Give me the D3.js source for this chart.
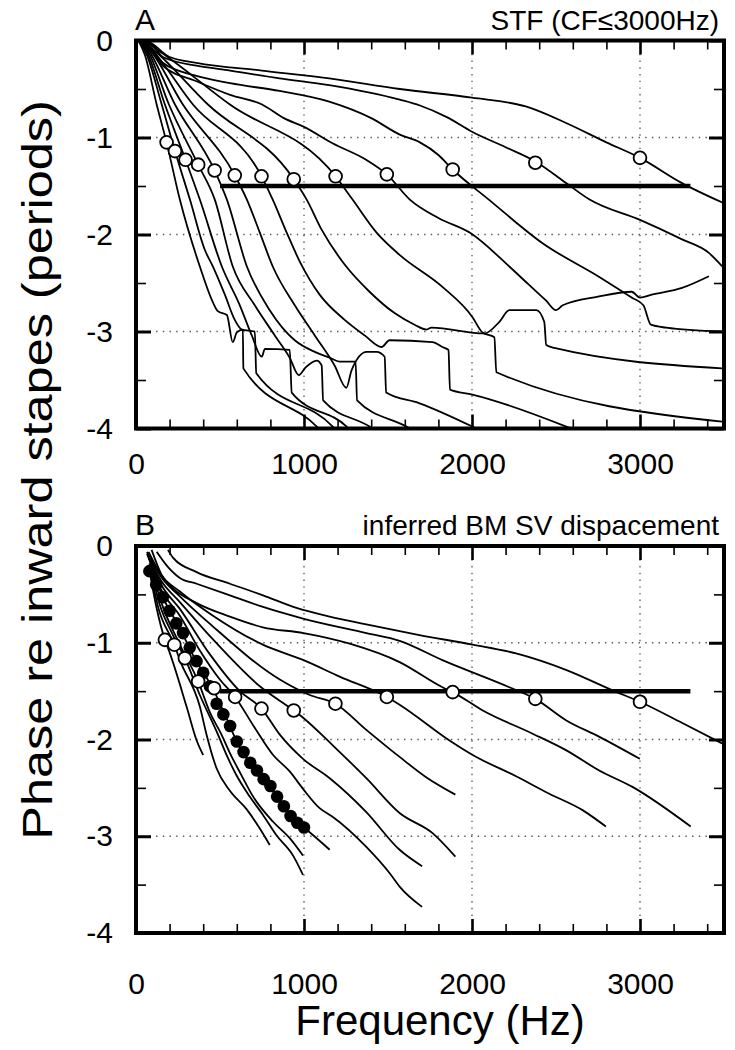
<!DOCTYPE html>
<html><head><meta charset="utf-8">
<script src="https://cdn.jsdelivr.net/npm/d3@7/dist/d3.min.js"></script>
<style>
body{margin:0;background:#fff;}
text{font-family:"Liberation Sans",Arial,sans-serif;fill:#000;}
</style></head><body>
<svg id="chart" width="735" height="1050" xmlns="http://www.w3.org/2000/svg"></svg>
<script>
// ---------- data (frequency in Hz, phase in periods) ----------
const xMajorTicks = [0, 1000, 2000, 3000];
const yMajorTicks = [0, -1, -2, -3, -4];
const gridFreq = [1000, 2000, 3000];
const gridPhase = [-1, -2, -3];

const cfFreqA  = [182, 232, 295, 370, 468, 588, 747, 939, 1188, 1493, 1885, 2377, 3000];
const cfPhaseA = [-1.05, -1.14, -1.23, -1.28, -1.34, -1.39, -1.40, -1.43, -1.40, -1.38, -1.33, -1.26, -1.21];
const cfFreqB  = [172, 228, 291, 370, 465, 590, 747, 939, 1187, 1493, 1885, 2377, 3000];
const cfPhaseB = [-0.97, -1.02, -1.16, -1.40, -1.47, -1.56, -1.68, -1.70, -1.63, -1.56, -1.51, -1.58, -1.61];

const refFreq = [500, 3300];
const refPhase = -1.5;

const dotFreq  = [80,120,160,200,240,280,320,360,400,440,480,520,560,600,640,680,720,760,800,840,880,920,960,1000];
const dotPhase = [-0.26,-0.40,-0.53,-0.67,-0.80,-0.90,-1.05,-1.19,-1.31,-1.45,-1.63,-1.74,-1.86,-2.02,-2.13,-2.24,-2.32,-2.41,-2.48,-2.59,-2.69,-2.79,-2.86,-2.91];

// Panel A: STF curves
const stfA1 = [[15,0],[53,-0.15],[123,-0.66],[182,-1.05],[261,-1.64],[380,-2.33],[458,-2.70],[487,-2.79],[541,-2.83],[576,-3.11],[600,-3.01],[636,-2.98],[639,-3.38],[1076,-3.98],[1153,-4.12]];
const stfA2 = [[20,0],[65,-0.15],[153,-0.66],[232,-1.14],[321,-1.64],[410,-2.16],[458,-2.33],[529,-2.62],[588,-2.88],[630,-2.98],[707,-3.00],[716,-3.43],[1171,-3.98],[1242,-4.12]];
const stfA3 = [[24,0],[71,-0.14],[172,-0.66],[295,-1.23],[380,-1.64],[511,-2.33],[618,-2.73],[689,-3.04],[749,-3.26],[767,-3.18],[915,-3.19],[927,-3.63],[1254,-3.98],[1331,-4.12]];
const stfA4 = [[24,0],[77,-0.13],[196,-0.66],[370,-1.28],[469,-1.64],[576,-2.33],[707,-2.73],[826,-3.04],[915,-3.27],[969,-3.45],[1010,-3.37],[1076,-3.30],[1105,-3.35],[1114,-3.71],[1390,-3.98],[1509,-4.12]];
const stfA5 = [[30,0],[83,-0.12],[232,-0.66],[468,-1.34],[541,-1.64],[660,-2.33],[796,-2.78],[945,-3.09],[1064,-3.21],[1153,-3.27],[1212,-3.31],[1307,-3.31],[1316,-3.71],[1610,-3.98],[1747,-4.12]];
const stfA6 = [[30,0],[89,-0.11],[279,-0.66],[588,-1.39],[660,-1.64],[737,-1.98],[814,-2.33],[945,-2.73],[1064,-3.04],[1182,-3.35],[1252,-3.58],[1283,-3.40],[1373,-3.21],[1432,-3.21],[1480,-3.26],[1489,-3.63],[1688,-3.74],[2002,-3.98],[2163,-4.12]];
const stfA7 = [[35,0],[95,-0.10],[339,-0.66],[747,-1.40],[814,-1.64],[897,-1.98],[975,-2.28],[1093,-2.62],[1242,-2.88],[1361,-3.04],[1462,-3.16],[1509,-3.09],[1765,-3.11],[1824,-3.16],[1860,-3.19],[1869,-3.60],[2002,-3.65],[2561,-3.98],[2757,-4.12]];
const stfA8 = [[35,0],[101,-0.09],[428,-0.66],[939,-1.43],[1016,-1.64],[1105,-1.95],[1242,-2.31],[1390,-2.59],[1539,-2.81],[1658,-2.93],[1729,-2.98],[1759,-2.96],[2074,-3.02],[2163,-2.90],[2222,-2.78],[2383,-2.78],[2430,-2.90],[2442,-3.14],[2490,-3.17],[3488,-3.38]];
const stfA9 = [[40,0],[113,-0.08],[559,-0.66],[1188,-1.40],[1289,-1.64],[1432,-1.98],[1569,-2.21],[1824,-2.54],[2002,-2.85],[2062,-3.01],[2133,-3.06],[2145,-3.42],[3488,-3.93]];
const stfA10 = [[20,0],[100,-0.12],[160,-0.26],[360,-0.42],[560,-0.56],[750,-0.66],[880,-0.80],[1000,-0.89],[1170,-1.06],[1370,-1.23],[1493,-1.38],[1630,-1.64],[1800,-1.83],[1995,-1.99],[2222,-2.33],[2340,-2.52],[2440,-2.68],[2500,-2.78],[2540,-2.73],[2750,-2.64],[2950,-2.59],[3000,-2.65],[3070,-2.62],[3250,-2.55],[3410,-2.43]];
const stfA11 = [[20,0],[100,-0.10],[160,-0.23],[350,-0.36],[560,-0.44],[855,-0.52],[1150,-0.63],[1400,-0.80],[1570,-0.97],[1690,-1.05],[1800,-1.18],[1885,-1.33],[2100,-1.64],[2420,-2.09],[2760,-2.44],[2950,-2.65],[3020,-2.73],[3065,-2.93],[3155,-2.96],[3490,-3.00]];
const stfA12 = [[20,0],[100,-0.05],[160,-0.17],[360,-0.26],[560,-0.31],[855,-0.39],[1150,-0.46],[1570,-0.61],[1690,-0.67],[1850,-0.79],[2000,-0.94],[2200,-1.10],[2380,-1.25],[2560,-1.47],[2700,-1.64],[3000,-1.85],[3250,-2.05],[3410,-2.19],[3490,-2.33]];
const stfA13 = [[20,0],[80,-0.02],[200,-0.17],[360,-0.23],[750,-0.31],[1150,-0.39],[1570,-0.50],[2000,-0.59],[2320,-0.68],[2560,-0.85],[2800,-1.05],[3000,-1.21],[3250,-1.47],[3490,-1.67]];

// Panel B: inferred BM SV displacement curves
const bmB1 = [[75,-0.20],[120,-0.62],[172,-0.97],[202,-1.11],[301,-1.66],[361,-2.01],[400,-2.16]];
const bmB2 = [[80,-0.20],[130,-0.62],[228,-1.02],[261,-1.18],[380,-1.66],[420,-1.95],[480,-2.30],[559,-2.53],[658,-2.72],[737,-2.92],[796,-3.09]];
const bmB3 = [[80,-0.18],[140,-0.60],[220,-0.92],[291,-1.16],[380,-1.54],[488,-1.95],[539,-2.16],[598,-2.37],[677,-2.59],[756,-2.78],[836,-2.99],[935,-3.20],[994,-3.40]];
const bmB4 = [[85,-0.18],[150,-0.58],[250,-0.98],[370,-1.40],[440,-1.72],[509,-1.95],[559,-2.14],[628,-2.37],[697,-2.59],[816,-2.85],[915,-3.02],[994,-3.20]];
const bmB5 = [[85,-0.20],[160,-0.53],[261,-0.85],[340,-1.13],[465,-1.50],[539,-1.78],[608,-2.05],[697,-2.28],[777,-2.45],[856,-2.63],[935,-2.82],[1000,-2.91],[1153,-3.14]];
const bmB6 = [[75,-0.12],[150,-0.45],[261,-0.72],[380,-1.08],[499,-1.38],[590,-1.56],[700,-1.86],[816,-2.16],[915,-2.33],[994,-2.51],[1093,-2.71],[1172,-2.80],[1371,-3.11],[1509,-3.38],[1569,-3.52],[1703,-3.73]];
const bmB7 = [[70,-0.10],[150,-0.40],[261,-0.65],[440,-1.12],[618,-1.50],[747,-1.68],[856,-1.95],[994,-2.20],[1153,-2.40],[1371,-2.75],[1569,-3.14],[1703,-3.31]];
const bmB8 = [[65,-0.08],[150,-0.36],[261,-0.58],[450,-0.95],[737,-1.45],[939,-1.70],[998,-1.78],[1171,-2.06],[1371,-2.40],[1569,-2.76],[1767,-2.97],[1901,-3.21]];
const bmB9 = [[65,-0.06],[150,-0.32],[261,-0.52],[450,-0.82],[856,-1.38],[1034,-1.54],[1187,-1.63],[1371,-1.90],[1569,-2.18],[1727,-2.39],[1901,-2.57]];
const bmB10 = [[75,-0.06],[150,-0.30],[261,-0.47],[458,-0.72],[755,-1.02],[998,-1.18],[1212,-1.35],[1493,-1.56],[1569,-1.64],[1866,-2.01],[2004,-2.16],[2262,-2.38],[2460,-2.56],[2658,-2.73],[2797,-2.90]];
const bmB11 = [[93,-0.04],[153,-0.30],[222,-0.44],[361,-0.59],[559,-0.73],[755,-0.84],[998,-0.90],[1272,-1.01],[1569,-1.20],[1824,-1.46],[1885,-1.51],[2064,-1.70],[2361,-1.94],[2559,-2.11],[2757,-2.32],[2955,-2.49],[3302,-2.90]];
const bmB12 = [[123,-0.06],[182,-0.20],[261,-0.33],[361,-0.39],[559,-0.51],[756,-0.63],[994,-0.75],[1371,-0.90],[1569,-0.98],[1824,-1.18],[2222,-1.46],[2377,-1.58],[2559,-1.80],[2756,-1.97],[2999,-2.20]];
const bmB13 = [[190,-0.04],[220,-0.12],[361,-0.27],[559,-0.39],[756,-0.51],[955,-0.64],[1153,-0.73],[1371,-0.81],[1687,-0.92],[2004,-1.02],[2262,-1.11],[2559,-1.28],[2834,-1.49],[2999,-1.61],[3252,-1.83],[3488,-2.04]];

const curvesA = [stfA1,stfA2,stfA3,stfA4,stfA5,stfA6,stfA7,stfA8,stfA9,stfA10,stfA11,stfA12,stfA13];
const curvesB = [bmB1,bmB2,bmB3,bmB4,bmB5,bmB6,bmB7,bmB8,bmB9,bmB10,bmB11,bmB12,bmB13];

// ---------- drawing ----------
const svg = d3.select("#chart");
const FONT = '"Liberation Sans", Arial, sans-serif';
const x = d3.scaleLinear().domain([0, 3500]).range([136, 724]);
const xMinorTicks = d3.range(200, 3500, 200).filter(d => d % 1000 !== 0);
const yMinorTicks = [-0.5, -1.5, -2.5, -3.5];
const fmtY = d => d === 0 ? "0" : "-" + Math.abs(d);

function styleAxis(g, w) {
  g.select(".domain").remove();
  g.selectAll(".tick line").attr("stroke", "#000").attr("stroke-width", w);
  g.selectAll("text").attr("font-family", FONT).attr("font-size", 30).attr("fill", "#000");
}

function drawPanel(cfg) {
  const y = d3.scaleLinear().domain([0, -4]).range([cfg.top, cfg.bottom]);
  const g = svg.append("g");
  const clipId = "clip" + cfg.name;
  svg.append("clipPath").attr("id", clipId).append("rect")
    .attr("x", x(0)).attr("y", cfg.top).attr("width", x(3500) - x(0)).attr("height", cfg.bottom - cfg.top);

  // dotted grid
  g.selectAll(".gx").data(gridFreq).join("line")
    .attr("x1", d => x(d)).attr("x2", d => x(d)).attr("y1", cfg.top).attr("y2", cfg.bottom)
    .attr("stroke", "#555").attr("stroke-width", 1.3).attr("stroke-dasharray", "1.4,5.3");
  g.selectAll(".gy").data(gridPhase).join("line")
    .attr("y1", d => y(d)).attr("y2", d => y(d)).attr("x1", x(0)).attr("x2", x(3500))
    .attr("stroke", "#555").attr("stroke-width", 1.3).attr("stroke-dasharray", "1.4,5.3");

  // curves
  const line = d3.line().x(d => x(d[0])).y(d => y(d[1])).curve(d3.curveMonotoneX);
  const cg = g.append("g").attr("clip-path", `url(#${clipId})`);
  cg.selectAll("path").data(cfg.curves).join("path")
    .attr("d", line).attr("fill", "none").attr("stroke", "#000")
    .attr("stroke-width", 1.8).attr("stroke-linejoin", "round");

  // reference bar at -1.5
  g.append("line").attr("x1", x(refFreq[0])).attr("x2", x(refFreq[1]))
    .attr("y1", y(refPhase)).attr("y2", y(refPhase))
    .attr("stroke", "#000").attr("stroke-width", 4.5);

  // filled dots
  if (cfg.dots) {
    g.selectAll(".dot").data(dotFreq.map((f, i) => [f, dotPhase[i]])).join("circle")
      .attr("cx", d => x(d[0])).attr("cy", d => y(d[1])).attr("r", 6.3).attr("fill", "#000");
  }

  // open circles at CF
  g.selectAll(".cf").data(cfg.cfFreq.map((f, i) => [f, cfg.cfPhase[i]])).join("circle")
    .attr("cx", d => x(d[0])).attr("cy", d => y(d[1])).attr("r", 6.4)
    .attr("fill", "#fff").attr("stroke", "#000").attr("stroke-width", 1.8);

  // axes (inward ticks on all sides)
  const ax = g.append("g");
  ax.append("g").attr("transform", `translate(0,${cfg.bottom})`)
    .call(d3.axisBottom(x).tickValues(xMinorTicks).tickSize(-9).tickFormat(""))
    .call(s => styleAxis(s, 1.6));
  ax.append("g").attr("transform", `translate(0,${cfg.bottom})`)
    .call(d3.axisBottom(x).tickValues(xMajorTicks).tickSize(-14).tickPadding(cfg.labelPad).tickFormat(d3.format("d")))
    .call(s => styleAxis(s, 2.6));
  ax.append("g").attr("transform", `translate(0,${cfg.top})`)
    .call(d3.axisTop(x).tickValues(xMinorTicks).tickSize(-9).tickFormat(""))
    .call(s => styleAxis(s, 1.6));
  ax.append("g").attr("transform", `translate(0,${cfg.top})`)
    .call(d3.axisTop(x).tickValues(xMajorTicks).tickSize(-14).tickFormat(""))
    .call(s => styleAxis(s, 2.6));
  ax.append("g").attr("transform", `translate(${x(0)},0)`)
    .call(d3.axisLeft(y).tickValues(yMinorTicks).tickSize(-10).tickFormat(""))
    .call(s => styleAxis(s, 1.6));
  ax.append("g").attr("transform", `translate(${x(0)},0)`)
    .call(d3.axisLeft(y).tickValues(yMajorTicks).tickSize(-15).tickPadding(23).tickFormat(fmtY))
    .call(s => styleAxis(s, 3));
  ax.append("g").attr("transform", `translate(${x(3500)},0)`)
    .call(d3.axisRight(y).tickValues(yMinorTicks).tickSize(-10).tickFormat(""))
    .call(s => styleAxis(s, 1.6));
  ax.append("g").attr("transform", `translate(${x(3500)},0)`)
    .call(d3.axisRight(y).tickValues(yMajorTicks).tickSize(-15).tickFormat(""))
    .call(s => styleAxis(s, 3));

  // frame
  g.append("rect").attr("x", x(0)).attr("y", cfg.top)
    .attr("width", x(3500) - x(0)).attr("height", cfg.bottom - cfg.top)
    .attr("fill", "none").attr("stroke", "#000").attr("stroke-width", 4);

  // panel letter and title
  g.append("text").attr("x", 135).attr("y", cfg.top - 11).attr("font-size", 30).text(cfg.name);
  g.append("text").attr("x", 719).attr("y", cfg.top - 11).attr("font-size", 28)
    .attr("text-anchor", "end").text(cfg.title);
}

drawPanel({name: "A", top: 40.5, bottom: 428.5, curves: curvesA, cfFreq: cfFreqA, cfPhase: cfPhaseA,
           title: "STF (CF\u22643000Hz)", dots: false, labelPad: 24});
drawPanel({name: "B", top: 546, bottom: 933, curves: curvesB, cfFreq: cfFreqB, cfPhase: cfPhaseB,
           title: "inferred BM SV dispacement", dots: true, labelPad: 40});

// axis titles
svg.append("text").attr("x", 440).attr("y", 1035).attr("text-anchor", "middle")
  .attr("font-size", 42).text("Frequency (Hz)");
svg.append("text").attr("transform", "translate(52,470) rotate(-90) scale(1.2,1)").attr("text-anchor", "middle")
  .attr("font-size", 42).text("Phase re inward stapes (periods)");
</script>
</body></html>
